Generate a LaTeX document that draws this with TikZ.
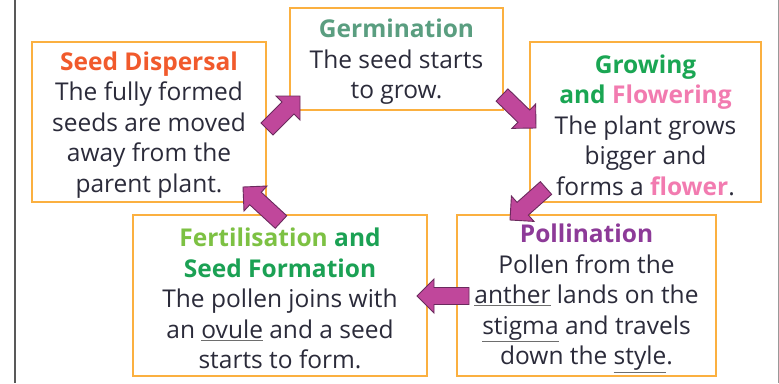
\documentclass[tikz,border=0pt]{standalone}
\usepackage{fontspec}
\setmainfont{Open Sans}
\usetikzlibrary{calc}
\definecolor{boxorange}{HTML}{FBB040}
\definecolor{textdark}{HTML}{2B2B3A}
\definecolor{dispersal}{HTML}{F15A2C}
\definecolor{germ}{HTML}{5A9E80}
\definecolor{growgreen}{HTML}{1AA653}
\definecolor{flowerpink}{HTML}{F27BB0}
\definecolor{fertgreen}{HTML}{7DC143}
\definecolor{seedgreen}{HTML}{1BA154}
\definecolor{pollpurple}{HTML}{8D3A98}
\definecolor{arrowfill}{HTML}{C0479B}
\definecolor{arrowedge}{HTML}{6A2A5D}
\definecolor{ulgray}{HTML}{6E6E6E}
\newcommand\ulw[1]{\textcolor{ulgray}{\underline{\textcolor{textdark}{#1}}}}
\newcommand\cyclearrow[2]{%
  \coordinate (ba-p) at ($(#2)!17pt!(#1)$);
  \filldraw[arrowstyle] ($(#1)!8.5pt!90:(#2)$) -- ($(ba-p)!8.5pt!90:(#2)$) -- ($(ba-p)!17pt!90:(#2)$) -- (#2) -- ($(ba-p)!17pt!-90:(#2)$) -- ($(ba-p)!8.5pt!-90:(#2)$) -- ($(#1)!8.5pt!-90:(#2)$) -- cycle;
}
\tikzset{
  stagebox/.style={draw=boxorange, line width=1.8pt, fill=white, inner sep=0pt},
  stagetext/.style={align=center, text=textdark, inner sep=0pt, font=\fontsize{24.5}{30.5}\selectfont},
  arrowstyle/.style={fill=arrowfill, draw=arrowedge, line width=0.9pt, line join=miter}
}
\begin{document}
\begin{tikzpicture}[x=1pt,y=-1pt]
\useasboundingbox (0,0) rectangle (779,383);
\fill[white] (0,0) rectangle (779,383);
\draw[line width=2pt, color=black!65] (15,0) -- (15,383);
\draw[line width=1pt, color=black!40] (778,0) -- (778,383);

\node[stagebox, minimum width=234pt, minimum height=160pt] (disp) at (149,122) {};
\node[stagebox, minimum width=213pt, minimum height=102pt] (germ) at (396.5,59) {};
\node[stagebox, minimum width=231pt, minimum height=160pt] (grow) at (645.5,122) {};
\node[stagebox, minimum width=294pt, minimum height=161pt] (fert) at (280,295.5) {};
\node[stagebox, minimum width=259pt, minimum height=161pt] (poll) at (586.5,295.5) {};

\node[stagetext] (disp-t) at ([yshift=-3pt]disp.center)
  {\textcolor{dispersal}{\bfseries Seed Dispersal}\\The fully formed\\seeds are moved\\away from the\\parent plant.};
\node[stagetext] (germ-t) at ([yshift=-3pt]germ.center)
  {\textcolor{germ}{\bfseries Germination}\\The seed starts\\to grow.};
\node[stagetext] (grow-t) at ([yshift=-3pt]grow.center)
  {\textcolor{growgreen}{\bfseries Growing}\\\textcolor{growgreen}{\bfseries and} \textcolor{flowerpink}{\bfseries Flowering}\\The plant grows\\bigger and\\forms a \textcolor{flowerpink}{\bfseries flower}.};
\node[stagetext] (fert-t) at ([yshift=-3pt]fert.center)
  {\textcolor{fertgreen}{\bfseries Fertilisation} \textcolor{seedgreen}{\bfseries and}\\\textcolor{seedgreen}{\bfseries Seed Formation}\\The pollen joins with\\an \ulw{ovule} and a seed\\starts to form.};
\node[stagetext] (poll-t) at ([yshift=-3pt]poll.center)
  {\textcolor{pollpurple}{\bfseries Pollination}\\Pollen from the\\\ulw{anther} lands on the\\\ulw{stigma} and travels\\down the \ulw{style}.};

\coordinate (a1t) at (267,129); \coordinate (a1h) at (300,96);
\coordinate (a2t) at (502,95);  \coordinate (a2h) at (536,128);
\coordinate (a3t) at (546,188); \coordinate (a3h) at (510,220);
\coordinate (a4t) at (469,296); \coordinate (a4h) at (417,296);
\coordinate (a5t) at (281,222); \coordinate (a5h) at (243,187);
\cyclearrow{a1t}{a1h}
\cyclearrow{a2t}{a2h}
\cyclearrow{a3t}{a3h}
\cyclearrow{a4t}{a4h}
\cyclearrow{a5t}{a5h}
\end{tikzpicture}
\end{document}
